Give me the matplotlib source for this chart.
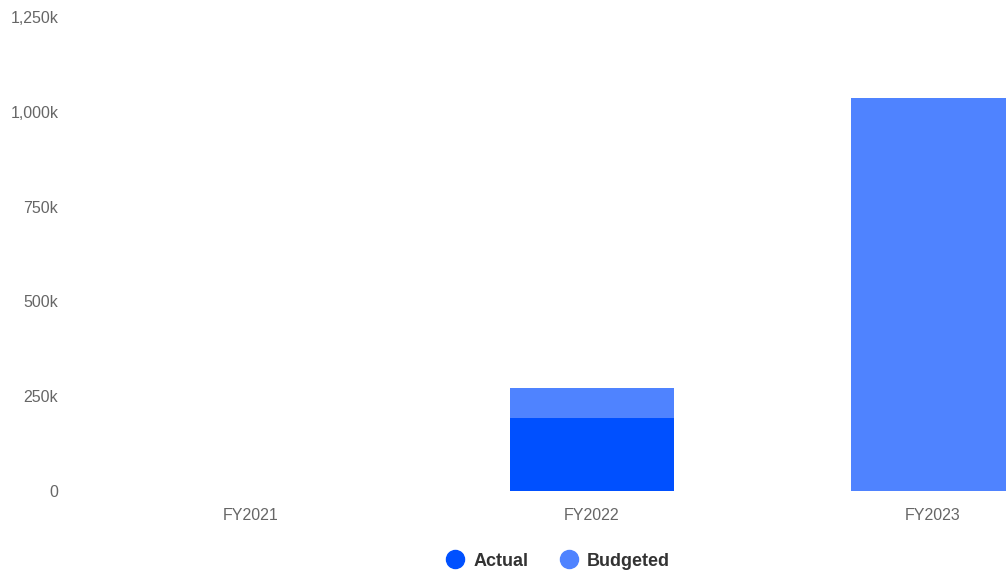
import matplotlib
matplotlib.use("Agg")
import matplotlib.pyplot as plt
from matplotlib.lines import Line2D
from matplotlib.ticker import FuncFormatter

categories = ["FY2021", "FY2022", "FY2023"]
actual = [0, 193000, 0]
budgeted = [0, 272000, 1037000]
yticks = [0, 250000, 500000, 750000, 1000000, 1250000]

c_actual = "#0050FF"
c_budget = "#4F83FF"

plt.rcParams["font.family"] = ["Liberation Sans", "DejaVu Sans"]

W, H = 1006, 573
fig = plt.figure(figsize=(W / 100, H / 100), dpi=100)
x0, x1 = 80.5, 1103.5
ytop, ybot = 17, 491
ax = fig.add_axes([x0 / W, (H - ybot) / H, (x1 - x0) / W, (ybot - ytop) / H])

xs = list(range(len(categories)))
ax.bar(xs, budgeted, width=0.48, color=c_budget, zorder=2)
ax.bar(xs, actual, width=0.48, color=c_actual, zorder=3)

ax.set_xlim(-0.5, len(categories) - 0.5)
ax.set_ylim(0, 1250000)
ax.set_yticks(yticks)

def fmt(v, pos):
    if v == 0:
        return "0"
    return f"{int(v/1000):,}k"

ax.yaxis.set_major_formatter(FuncFormatter(fmt))
ax.set_xticks(xs)
ax.set_xticklabels(categories)
for s in ax.spines.values():
    s.set_visible(False)
ax.tick_params(axis="both", length=0, colors="#666666", labelsize=11.5)
ax.tick_params(axis="y", pad=16)
ax.tick_params(axis="x", pad=12)

handles = [
    Line2D([], [], marker="o", linestyle="none", markersize=13, color=c_actual, label="Actual"),
    Line2D([], [], marker="o", linestyle="none", markersize=13, color=c_budget, label="Budgeted"),
]
leg = fig.legend(handles=handles, loc="center", bbox_to_anchor=(558 / W, (H - 561) / H),
                 ncol=2, frameon=False, handletextpad=0.5, columnspacing=1.75,
                 prop={"weight": "bold", "size": 13}, handlelength=1.0)
for t in leg.get_texts():
    t.set_color("#333333")

fig.savefig("out.png", dpi=100)
